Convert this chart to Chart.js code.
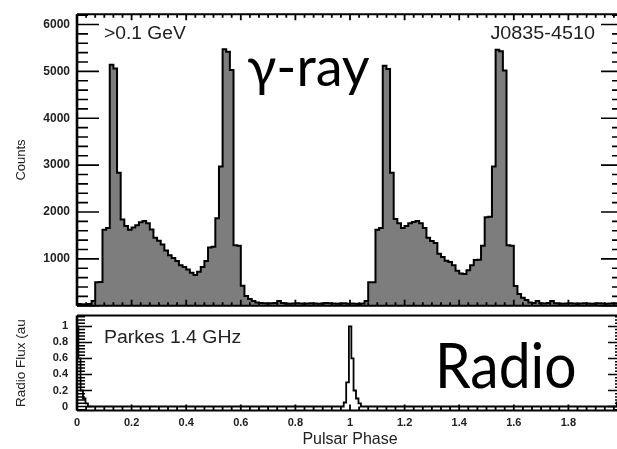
<!DOCTYPE html>
<html><head><meta charset="utf-8">
<script src="https://cdn.jsdelivr.net/npm/chart.js@4"></script>
<style>
html,body{margin:0;padding:0;overflow:hidden;background:#fff;width:617px;height:449px;}
#wrapTop{position:absolute;left:0;top:0;width:630px;height:320px;}
#wrapBot{position:absolute;left:0;top:300px;width:630px;height:149px;}
</style></head><body>
<div id="wrapTop"><canvas id="top"></canvas></div>
<div id="wrapBot"><canvas id="bot"></canvas></div>
<script>
// ---- data ----
const binWidth = 1 / 75;            // phase width of one histogram bin
const gammaCycle1 = [
  40, 35, 30, 40, 100, 500, 510, 1620, 1660, 5140, 5060, 2840, 1840, 1700, 1620,
  1670, 1720, 1780, 1810, 1760, 1630, 1450, 1390, 1310, 1180, 1080, 1020, 955, 865, 830,
  775, 705, 655, 725, 830, 955, 1245, 1260, 1870, 2970, 5470, 5420, 5030, 1290, 1280,
  430, 207, 145, 100, 70, 60, 55, 50, 55, 60, 105, 60, 50, 45, 50,
  55, 50, 45, 50, 55, 50, 45, 50, 60, 55, 50, 45, 50, 55, 45
];
const gammaCycle2 = [
  50, 45, 40, 50, 100, 500, 500, 1620, 1660, 5120, 5050, 2840, 1850, 1760, 1660,
  1700, 1760, 1790, 1810, 1760, 1660, 1450, 1380, 1340, 1110, 1040, 960, 935, 865, 745,
  690, 680, 760, 865, 975, 980, 1280, 1890, 1900, 2970, 5460, 5430, 5020, 1290, 1280,
  420, 250, 170, 125, 70, 60, 100, 55, 50, 60, 105, 55, 50, 45, 50,
  55, 50, 45, 50, 55, 50, 45, 50, 55, 50, 45, 50, 55, 50, 45
];
const radioPhase = [0, 0.005, 0.013, 0.022, 0.031, 0.040, 0.977, 0.986, 0.996, 1.005, 1.013, 1.022, 1.031, 1.040, 1.977, 1.986, 1.996, 2.0];
const radioFlux  = [1.0, 0.6, 0.2, 0.1, 0.04, 0, 0.05, 0.3, 1.0, 0.6, 0.2, 0.1, 0.04, 0, 0.05, 0.3, 1.0, 1.0];
const gammaTickLabels = [1000, 2000, 3000, 4000, 5000, 6000];
const radioTickLabels = [0, 0.2, 0.4, 0.6, 0.8, 1];
const phaseTickLabels = [0, 0.2, 0.4, 0.6, 0.8, 1, 1.2, 1.4, 1.6, 1.8];

// ---- build library data ----
const gammaCounts = gammaCycle1.concat(gammaCycle2);
const gammaPoints = gammaCounts.map((c, i) => ({x: i * binWidth, y: c}));
gammaPoints.push({x: gammaCounts.length * binWidth, y: gammaCounts[gammaCounts.length - 1]});
const radioPoints = radioPhase.map((p, i) => ({x: p, y: radioFlux[i]}));

const framePlugin = {
  id: 'frame',
  afterDatasetsDraw(chart, args, o) {
    const ctx = chart.ctx, a = chart.chartArea;
    const xs = chart.scales.x, ys = chart.scales.y;
    ctx.save();
    ctx.strokeStyle = '#000';
    ctx.lineWidth = o.xTickWidth;
    ctx.beginPath();
    const nx = Math.round((xs.max - xs.min) / o.xMinor);
    for (let i = 0; i <= nx; i++) {
      const px = xs.getPixelForValue(xs.min + i * o.xMinor);
      const len = (i % o.xPer === 0) ? o.xMajorLen : o.xMinorLen;
      if (o.xBottom) { ctx.moveTo(px, a.bottom); ctx.lineTo(px, a.bottom - len); }
      if (o.xTop) { ctx.moveTo(px, a.top); ctx.lineTo(px, a.top + len); }
    }
    ctx.stroke();
    ctx.lineWidth = o.yTickWidth;
    ctx.beginPath();
    const i0 = Math.ceil(ys.min / o.yMinor - 1e-9), i1 = Math.floor(ys.max / o.yMinor + 1e-9);
    for (let i = i0; i <= i1; i++) {
      const py = ys.getPixelForValue(i * o.yMinor);
      const len = (((i % o.yPer) + o.yPer) % o.yPer === 0) ? o.yMajorLen : o.yMinorLen;
      ctx.moveTo(a.left, py); ctx.lineTo(a.left + len, py);
      ctx.moveTo(a.right, py); ctx.lineTo(a.right - len, py);
    }
    ctx.stroke();
    ctx.lineWidth = o.hFrame;
    ctx.beginPath();
    ctx.moveTo(a.left, a.top); ctx.lineTo(a.right, a.top);
    ctx.moveTo(a.left, a.bottom); ctx.lineTo(a.right, a.bottom);
    ctx.stroke();
    ctx.lineWidth = o.vFrame;
    ctx.beginPath();
    ctx.moveTo(a.left, a.top); ctx.lineTo(a.left, a.bottom);
    ctx.moveTo(a.right, a.top); ctx.lineTo(a.right, a.bottom);
    ctx.stroke();
    (o.texts || []).forEach(t => {
      ctx.save();
      ctx.font = t.font; ctx.fillStyle = t.color || '#000';
      ctx.textAlign = t.align || 'left'; ctx.textBaseline = 'alphabetic';
      ctx.translate((t.fromRight ? a.right : a.left) + t.dx, a.top + t.dy);
      ctx.scale(t.sx || 1, 1);
      ctx.fillText(t.text, 0, 0);
      ctx.restore();
    });
    ctx.restore();
  }
};

const fam = '"Liberation Sans", Arial, sans-serif';
const tickFont = {family: fam, size: 11, weight: 'bold'};
const smallText = '18px ' + fam;
const bigText = 'Lato, "Open Sans", "Noto Sans", sans-serif';

new Chart(document.getElementById('top'), {
  type: 'line',
  data: {datasets: [{
    data: gammaPoints, stepped: true, fill: 'origin',
    backgroundColor: '#7d7d7d', borderColor: '#000', borderWidth: 2,
    pointRadius: 0, pointHoverRadius: 0
  }]},
  options: {
    responsive: true, maintainAspectRatio: false, animation: false,
    layout: {padding: {left: 0, top: 10, right: 7, bottom: 10}},
    events: [],
    plugins: {
      legend: {display: false}, tooltip: {enabled: false},
      frame: {
        xMinor: 0.2 / 6, xPer: 6, xMajorLen: 6, xMinorLen: 3.5, xTop: true, xBottom: true, xTickWidth: 1.8,
        yMinor: 200, yPer: 5, yMajorLen: 22, yMinorLen: 11, yTickWidth: 1.6,
        hFrame: 2, vFrame: 2.6,
        texts: [
          {text: '>0.1 GeV', font: smallText, color: '#222', dx: 27, dy: 25, sx: 1.07},
          {text: 'J0835-4510', font: smallText, color: '#222', align: 'right', fromRight: true, dx: -28, dy: 25, sx: 1.1},
          {text: 'γ-ray', font: '54px ' + bigText, color: '#000', dx: 170, dy: 72}
        ]
      }
    },
    scales: {
      x: {type: 'linear', min: 0, max: 2, display: false},
      y: {
        type: 'linear', min: 0, max: 6220,
        afterFit: s => { s.width = 77; },
        afterBuildTicks: s => { s.ticks = gammaTickLabels.map(v => ({value: v})); },
        grid: {display: false, drawTicks: false}, border: {display: false},
        ticks: {padding: 7, color: '#222', font: {family: fam, size: 12, weight: 'bold'}, callback: v => String(v)},
        title: {display: true, text: 'Counts', color: '#222',
                font: {family: fam, size: 13}, padding: {top: 14, bottom: 0}}
      }
    }
  },
  plugins: [framePlugin]
});

new Chart(document.getElementById('bot'), {
  type: 'line',
  data: {datasets: [{
    data: radioPoints, stepped: true, fill: false,
    borderColor: '#000', borderWidth: 1.8, pointRadius: 0, pointHoverRadius: 0
  }]},
  options: {
    responsive: true, maintainAspectRatio: false, animation: false,
    layout: {padding: {left: 0, top: 10, right: 7, bottom: 0}},
    events: [],
    plugins: {
      legend: {display: false}, tooltip: {enabled: false},
      frame: {
        xMinor: 0.2 / 6, xPer: 6, xMajorLen: 6, xMinorLen: 4, xTop: false, xBottom: true, xTickWidth: 1.8,
        yMinor: 0.04, yPer: 5, yMajorLen: 15, yMinorLen: 8, yTickWidth: 1.5,
        hFrame: 2, vFrame: 2.6,
        texts: [
          {text: 'Parkes 1.4 GHz', font: smallText, color: '#222', dx: 27, dy: 27, sx: 1.08},
          {text: 'Radio', font: '62px ' + bigText, color: '#000', dx: 358, dy: 72.5, sx: 0.92}
        ]
      }
    },
    scales: {
      x: {
        type: 'linear', min: 0, max: 2,
        afterFit: s => { s.height = 38.5; },
        afterBuildTicks: s => { s.ticks = phaseTickLabels.map(v => ({value: v})); },
        grid: {display: false, drawTicks: false}, border: {display: false},
        ticks: {padding: 6, color: '#222', font: tickFont, maxRotation: 0, autoSkip: false, callback: v => String(v)},
        title: {display: true, text: 'Pulsar Phase', color: '#222',
                font: {family: fam, size: 16}, padding: {top: 0, bottom: 0}}
      },
      y: {
        type: 'linear', min: -0.05, max: 1.135,
        afterFit: s => { s.width = 77; },
        afterBuildTicks: s => { s.ticks = radioTickLabels.map(v => ({value: v})); },
        grid: {display: false, drawTicks: false}, border: {display: false},
        ticks: {padding: 9, color: '#222', font: tickFont, callback: v => String(v)},
        title: {display: true, text: 'Radio Flux (au', color: '#222',
                font: {family: fam, size: 13.5}, padding: {top: 13, bottom: 0}}
      }
    }
  },
  plugins: [framePlugin]
});
</script>
</body></html>
